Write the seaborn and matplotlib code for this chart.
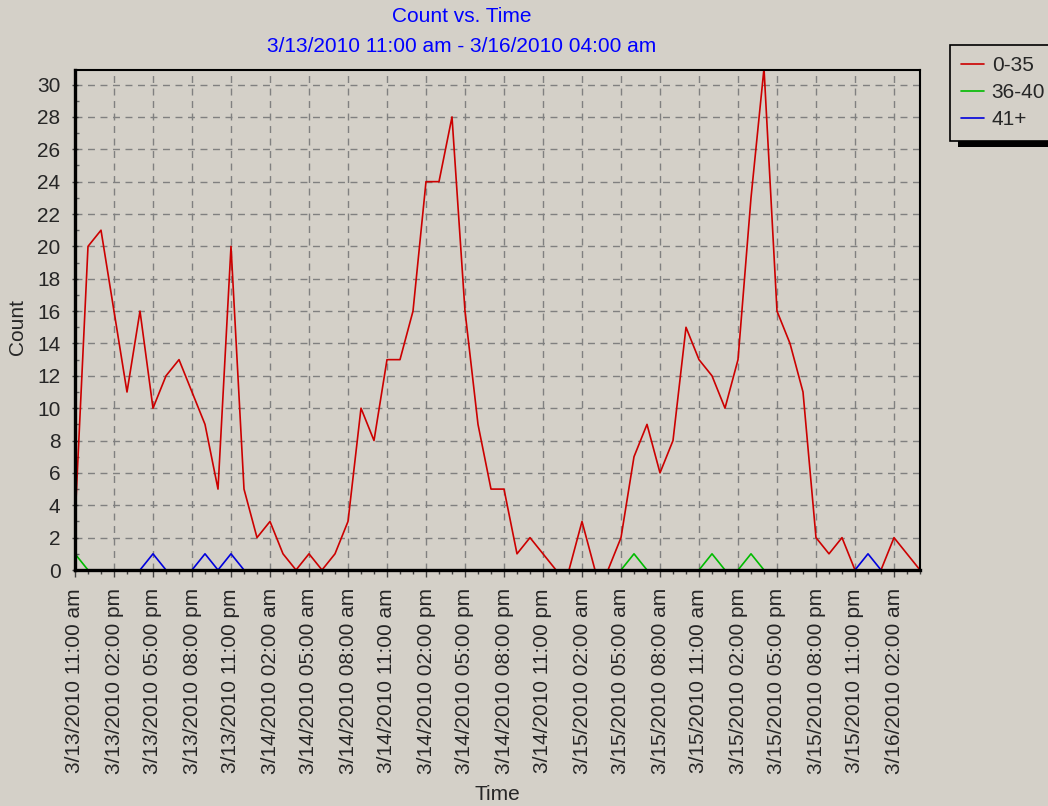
import numpy as np
import pandas as pd
import seaborn as sns
import matplotlib.pyplot as plt
from matplotlib.lines import Line2D
from matplotlib.patches import Rectangle

# hourly counts from 3/13/2010 11:00 am to 3/16/2010 04:00 am
start_time = '2010-03-13 11:00'

count_0_35 = [3, 20, 21, 16, 11, 16, 10, 12, 13, 11,
              9, 5, 20, 5, 2, 3, 1, 0, 1, 0,
              1, 3, 10, 8, 13, 13, 16, 24, 24, 28,
              16, 9, 5, 5, 1, 2, 1, 0, 0, 3,
              0, 0, 2, 7, 9, 6, 8, 15, 13, 12,
              10, 13, 23, 31, 16, 14, 11, 2, 1, 2,
              0, 0, 0, 2, 1, 0]
count_36_40 = [1, 0, 0, 0, 0, 0, 0, 0, 0, 0,
               0, 0, 0, 0, 0, 0, 0, 0, 0, 0,
               0, 0, 0, 0, 0, 0, 0, 0, 0, 0,
               0, 0, 0, 0, 0, 0, 0, 0, 0, 0,
               0, 0, 0, 1, 0, 0, 0, 0, 0, 1,
               0, 0, 1, 0, 0, 0, 0, 0, 0, 0,
               0, 0, 0, 0, 0, 0]
count_41_plus = [0, 0, 0, 0, 0, 0, 1, 0, 0, 0,
                 1, 0, 1, 0, 0, 0, 0, 0, 0, 0,
                 0, 0, 0, 0, 0, 0, 0, 0, 0, 0,
                 0, 0, 0, 0, 0, 0, 0, 0, 0, 0,
                 0, 0, 0, 0, 0, 0, 0, 0, 0, 0,
                 0, 0, 0, 0, 0, 0, 0, 0, 0, 0,
                 0, 1, 0, 0, 0, 0]

series_names = ['0-35', '36-40', '41+']
series_colors = ['#cc0000', '#00bb00', '#0000dd']

tick_labels = ['3/13/2010 11:00 am', '3/13/2010 02:00 pm', '3/13/2010 05:00 pm',
               '3/13/2010 08:00 pm', '3/13/2010 11:00 pm', '3/14/2010 02:00 am',
               '3/14/2010 05:00 am', '3/14/2010 08:00 am', '3/14/2010 11:00 am',
               '3/14/2010 02:00 pm', '3/14/2010 05:00 pm', '3/14/2010 08:00 pm',
               '3/14/2010 11:00 pm', '3/15/2010 02:00 am', '3/15/2010 05:00 am',
               '3/15/2010 08:00 am', '3/15/2010 11:00 am', '3/15/2010 02:00 pm',
               '3/15/2010 05:00 pm', '3/15/2010 08:00 pm', '3/15/2010 11:00 pm',
               '3/16/2010 02:00 am']

bg = '#d4d0c8'

times = pd.date_range(start_time, periods=len(count_0_35), freq='h')
df = pd.DataFrame({'Time': times,
                   '0-35': count_0_35,
                   '36-40': count_36_40,
                   '41+': count_41_plus})
df = df.melt(id_vars='Time', var_name='range', value_name='Count')

sns.set_style('ticks')
plt.rcParams['font.family'] = ['Liberation Sans', 'DejaVu Sans']

W, H = 1048, 806
fig = plt.figure(figsize=(W / 100, H / 100), dpi=100, facecolor=bg)
ax = fig.add_axes([75 / W, 1 - 570 / H, 845 / W, 500 / H])
ax.set_facecolor(bg)

sns.lineplot(data=df, x='Time', y='Count', hue='range', hue_order=series_names,
             palette=dict(zip(series_names, series_colors)), linewidth=1.2,
             errorbar=None, legend=False, ax=ax)

ax.set_xlim(times[0], times[-1])
ax.set_xticks(times[::3])
ax.set_xticklabels(tick_labels, rotation=90)
ax.set_xticks(times, minor=True)
ax.set_ylim(0, 30.9)
ax.set_yticks(range(0, 31, 2))
ax.set_yticks(range(0, 31), minor=True)

ax.grid(True, which='major', color='#808080', linestyle=(0, (5, 4)), linewidth=1.0)
ax.set_axisbelow(True)

ax.tick_params(axis='x', which='major', labelsize=15, length=5, width=1,
               color='#404040', pad=8)
ax.tick_params(axis='x', which='minor', length=3, width=1, color='#404040')
ax.tick_params(axis='y', which='major', labelsize=15, length=5, width=1,
               color='#404040', direction='inout', pad=8)
ax.tick_params(axis='y', which='minor', length=3, width=1, color='#606060',
               direction='in')

for side in ['left', 'bottom']:
    ax.spines[side].set_linewidth(2.4)
    ax.spines[side].set_color('black')
for side in ['top', 'right']:
    ax.spines[side].set_visible(True)
    ax.spines[side].set_linewidth(1.5)
    ax.spines[side].set_color('black')

ax.set_xlabel('')
ax.set_ylabel('')
fig.text(497 / W, 1 - 794 / H, 'Time', fontsize=15, ha='center', va='center')
fig.text(18 / W, 1 - 327 / H, 'Count', fontsize=15, rotation=90,
         ha='center', va='center')

# two line title in blue
fig.text(462 / W, 1 - 17 / H, 'Count vs. Time', fontsize=15, color='#0000ff',
         ha='center', va='center')
fig.text(462 / W, 1 - 46 / H, '3/13/2010 11:00 am - 3/16/2010 04:00 am',
         fontsize=15, color='#0000ff', ha='center', va='center')

handles = [Line2D([], [], color=c, linewidth=1.2) for c in series_colors]
leg = fig.legend(handles, series_names, loc='upper left',
                 bbox_to_anchor=(950 / W, 1 - 45 / H), fontsize=15,
                 frameon=True, fancybox=False, shadow=False,
                 edgecolor='black', facecolor=bg, framealpha=1,
                 borderaxespad=0, borderpad=0.55, handlelength=1.1,
                 handletextpad=0.35, labelspacing=0.38)
leg.get_frame().set_linewidth(1.2)
leg.set_zorder(5)

# hard black drop shadow like the old windows chart
fig.canvas.draw()
bb = leg.get_window_extent().transformed(fig.transFigure.inverted())
fig.patches.append(Rectangle((bb.x0 + 8 / W, bb.y0 - 6 / H), bb.width, bb.height,
                             transform=fig.transFigure, facecolor='black',
                             edgecolor='none', zorder=4))

fig.savefig('out.png', dpi=100, facecolor=bg)
